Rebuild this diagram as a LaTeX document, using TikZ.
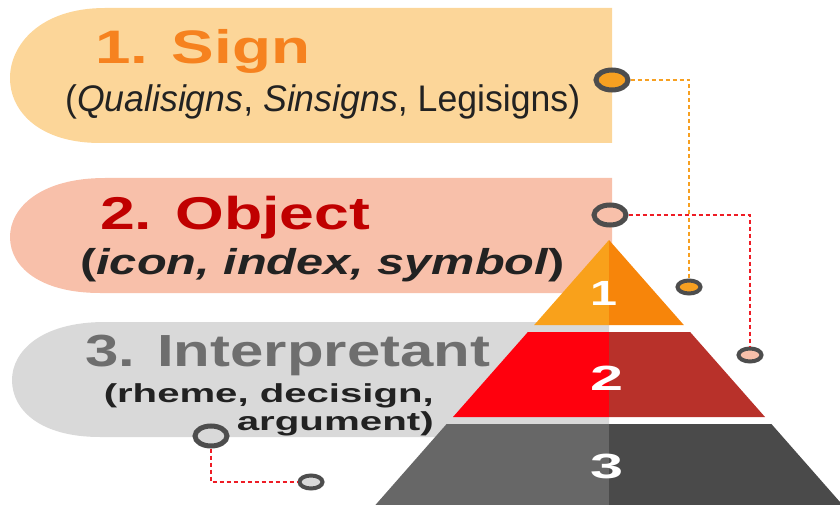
\documentclass[tikz,border=0pt]{standalone}
\usepackage{fontspec}
\setmainfont{Liberation Sans}
\usetikzlibrary{shapes.geometric}
\definecolor{bannerA}{HTML}{FCD699}
\definecolor{bannerB}{HTML}{F8C0AA}
\definecolor{bannerC}{HTML}{D9D9D9}
\definecolor{headA}{HTML}{F6821F}
\definecolor{headB}{HTML}{C00000}
\definecolor{headC}{HTML}{6E6E6E}
\definecolor{subtext}{HTML}{222222}
\definecolor{tierAl}{HTML}{F9A11B}
\definecolor{tierAr}{HTML}{F7850A}
\definecolor{tierBl}{HTML}{FF000D}
\definecolor{tierBr}{HTML}{B8312A}
\definecolor{tierCl}{HTML}{676767}
\definecolor{tierCr}{HTML}{4A4A4A}
\definecolor{ringgray}{HTML}{4D4D4D}
\definecolor{dotorange}{HTML}{F7A021}
\definecolor{dashred}{HTML}{EE1C25}
\newcommand{\myfit}[2]{\resizebox{#1}{\height}{#2}}
\tikzset{
  txt/.style={inner sep=0pt, anchor=base west},
  bigring/.style={ellipse, draw=ringgray, line width=5pt, minimum width=32pt, minimum height=20pt, inner sep=0pt},
  smallring/.style={ellipse, draw=ringgray, line width=4pt, minimum width=23pt, minimum height=13pt, inner sep=0pt},
  orangedash/.style={draw=dotorange, line width=2pt, dash pattern=on 4pt off 3pt},
  reddash/.style={draw=dashred, line width=2pt, dash pattern=on 4pt off 3pt},
  tiernum/.style={inner sep=0pt, text=white, font=\bfseries\fontsize{35}{40}\selectfont}
}
\begin{document}
\begin{tikzpicture}[x=1pt,y=-1pt]
\useasboundingbox (0,0) rectangle (840,505);
\clip (0,0) rectangle (840,505);
% banners
\fill[bannerA] (612,8) -- (105,8) .. controls (40,8) and (10,45) .. (10,78) .. controls (10,112) and (40,143) .. (100,143) -- (612,143) -- cycle;
\fill[bannerB] (612,178) -- (105,178) .. controls (40,178) and (10,208) .. (10,237) .. controls (10,267) and (40,293) .. (100,293) -- (612,293) -- cycle;
\fill[bannerC] (609,322) -- (105,322) .. controls (40,322) and (12,352) .. (12,380) .. controls (12,410) and (40,437) .. (100,437) -- (609,437) -- cycle;
% texts
\node[txt, text=headA, font=\bfseries\fontsize{47}{50}\selectfont] (t1) at (95,64) {\myfit{215pt}{1. Sign}};
\node[txt, text=subtext, font=\fontsize{37}{40}\selectfont] (s1) at (65,112) {\myfit{515pt}{({\itshape Qualisigns}, {\itshape Sinsigns}, Legisigns)}};
\node[txt, text=headB, font=\bfseries\fontsize{46}{50}\selectfont] (t2) at (100,229) {\myfit{270pt}{2. Object}};
\node[txt, text=subtext, font=\bfseries\fontsize{36}{40}\selectfont] (s2) at (80,274) {\myfit{485pt}{(\textit{icon, index, symbol})}};
\node[txt, text=headC, font=\bfseries\fontsize{45}{50}\selectfont] (t3) at (85,366) {\myfit{405pt}{3. Interpretant}};
\node[inner sep=0pt, anchor=base east, text=subtext, font=\bfseries\fontsize{26}{28}\selectfont] (s3a) at (434,402) {\myfit{330pt}{(rheme, decisign,}};
\node[inner sep=0pt, anchor=base east, text=subtext, font=\bfseries\fontsize{26}{28}\selectfont] (s3b) at (434,430) {\myfit{197pt}{argument)}};
% pyramid (apex 609,240; slope 0.88)
\fill[tierAl] (609,240) -- (534.2,325) -- (609,325) -- cycle;
\fill[tierAr] (609,240) -- (683.8,325) -- (609,325) -- cycle;
\fill[tierBl] (609,332) -- (527.9,332) -- (453.0,417) -- (609,417) -- cycle;
\fill[tierBr] (609,332) -- (690.1,332) -- (765.0,417) -- (609,417) -- cycle;
\fill[tierCl] (609,424) -- (446.6,424) -- (375.4,505) -- (609,505) -- cycle;
\fill[tierCr] (609,424) -- (771.4,424) -- (842.6,505) -- (609,505) -- cycle;
\node[tiernum, anchor=base] (n1) at (604,305) {\myfit{27pt}{1}};
\node[tiernum, anchor=base] (n2) at (607,390) {\myfit{33pt}{2}};
\node[tiernum, anchor=base] (n3) at (607,478) {\myfit{33pt}{3}};
% connector rings
\node[bigring, fill=dotorange] (ca) at (612,80) {};
\node[smallring, fill=dotorange] (cb) at (689,287) {};
\node[bigring, fill=bannerB] (cc) at (610,215) {};
\node[smallring, fill=bannerB] (cd) at (750,355) {};
\node[bigring, fill=bannerC] (ce) at (211,436) {};
\node[smallring, fill=bannerC] (cf) at (311,482) {};
% connectors
\draw[orangedash] (ca.east) -| (cb.north);
\draw[reddash] (cc.east) -| (cd.north);
\draw[reddash] (ce.south) |- (cf.west);
\end{tikzpicture}
\end{document}
